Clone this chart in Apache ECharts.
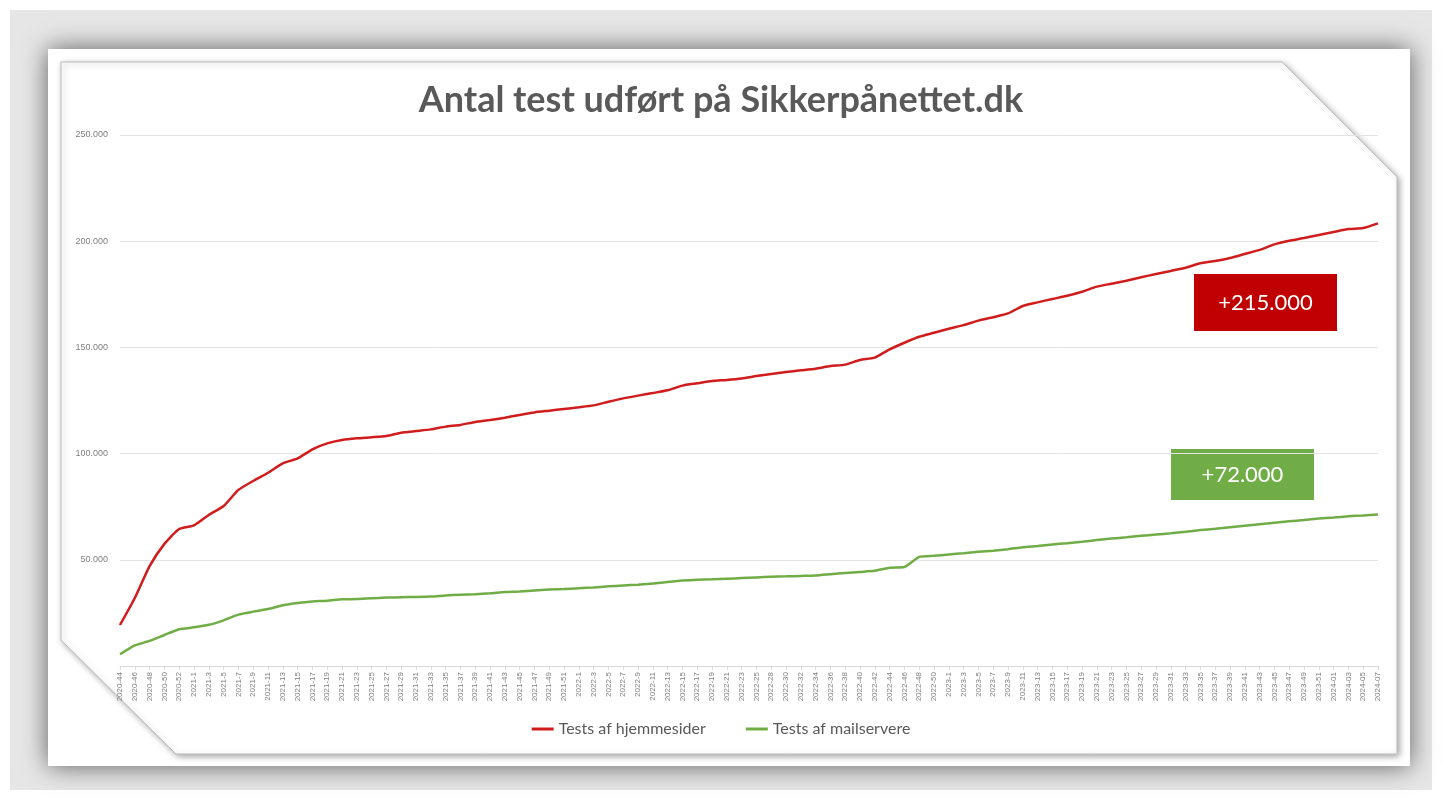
<!DOCTYPE html>
<html style="height: 100%">
<head>
<meta charset="utf-8">
<script src="https://cdn.jsdelivr.net/npm/echarts@6/dist/echarts.min.js"></script>
</head>
<body style="height: 100%; margin: 0; background: #fff">
<div id="container" style="width: 1442px; height: 798px"></div>
<script type="text/javascript">
// week labels (every second week)
var weeks = ['2020-44','2020-46','2020-48','2020-50','2020-52',
  '2021-1','2021-3','2021-5','2021-7','2021-9','2021-11','2021-13','2021-15','2021-17','2021-19',
  '2021-21','2021-23','2021-25','2021-27','2021-29','2021-31','2021-33','2021-35','2021-37','2021-39',
  '2021-41','2021-43','2021-45','2021-47','2021-49','2021-51',
  '2022-1','2022-3','2022-5','2022-7','2022-9','2022-11','2022-13','2022-15','2022-17','2022-19',
  '2022-21','2022-23','2022-25','2022-28','2022-30','2022-32','2022-34','2022-36','2022-38','2022-40',
  '2022-42','2022-44','2022-46','2022-48','2022-50',
  '2023-1','2023-3','2023-5','2023-7','2023-9','2023-11','2023-13','2023-15','2023-17','2023-19',
  '2023-21','2023-23','2023-25','2023-27','2023-29','2023-31','2023-33','2023-35','2023-37','2023-39',
  '2023-41','2023-43','2023-45','2023-47','2023-49','2023-51',
  '2024-01','2024-03','2024-05','2024-07'];

var hjemmesider = [19300, 32000, 47000, 57500, 64500,
  66200, 71100, 75300, 82900, 87100, 91000, 95400, 97700, 102000, 104800,
  106400, 107200, 107700, 108300, 109800, 110600, 111400, 112700, 113500, 114900,
  115800, 116900, 118200, 119400, 120200, 121000,
  121800, 122700, 124400, 126000, 127300, 128500, 129800, 132000, 133100, 134200,
  134700, 135400, 136500, 137500, 138400, 139200, 140000, 141200, 141900, 144100,
  145200, 149100, 152200, 155000, 156900,
  158800, 160500, 162600, 164200, 166000, 169500, 171200, 172800, 174300, 176200,
  178600, 180000, 181400, 183000, 184600, 186000, 187500, 189600, 190700, 192100,
  194000, 195900, 198500, 200200, 201500, 202900,
  204300, 205700, 206200, 208400];

var mailservere = [5500, 9700, 11800, 14600, 17300,
  18200, 19400, 21500, 24200, 25600, 26800, 28600, 29700, 30400, 30700,
  31400, 31500, 31900, 32200, 32400, 32500, 32700, 33200, 33600, 33800,
  34200, 34800, 35100, 35600, 36000, 36200,
  36600, 37000, 37500, 37900, 38300, 38800, 39600, 40200, 40600, 40800,
  41100, 41400, 41700, 42000, 42200, 42400, 42600, 43200, 43800, 44300,
  44800, 46300, 46600, 51400, 51900,
  52500, 53100, 53800, 54300, 55000, 55900, 56500, 57200, 57800, 58500,
  59300, 60000, 60600, 61300, 61900, 62500, 63200, 64000, 64600, 65300,
  66000, 66700, 67400, 68100, 68700, 69400,
  69900, 70500, 70900, 71300];

var seriesNames = ['Tests af hjemmesider', 'Tests af mailservere'];
var seriesColors = ['#d01c1c', '#70ad47'];
var notes = ['+215.000', '+72.000'];

var dom = document.getElementById('container');
var myChart = echarts.init(dom, null, {renderer: 'canvas'});

function dk(v) {
    return String(v).replace(/\B(?=(\d{3})+(?!\d))/g, '.');
}

var option = {
    animation: false,
    backgroundColor: '#ffffff',
    title: {
        text: 'Antal test udført på Sikkerpånettet.dk',
        left: 'center',
        top: 77,
        textStyle: {
            fontFamily: 'Lato',
            fontWeight: 'bold',
            fontSize: 36,
            color: '#595959'
        }
    },
    legend: {
        top: 716,
        left: 'center',
        itemGap: 40,
        itemWidth: 22,
        itemHeight: 3,
        icon: 'rect',
        textStyle: {fontFamily: 'Lato', fontSize: 16, color: '#595959'},
        data: seriesNames
    },
    grid: {left: 120, right: 64, top: 135, bottom: 132},
    xAxis: {
        type: 'category',
        data: weeks,
        boundaryGap: false,
        axisLine: {lineStyle: {color: '#d9d9d9'}},
        axisTick: {show: true, length: 4, interval: 0, lineStyle: {color: '#d9d9d9'}},
        axisLabel: {
            interval: 0,
            rotate: 90,
            fontFamily: 'Liberation Sans',
            fontSize: 8,
            color: '#808080',
            margin: 6
        }
    },
    yAxis: {
        type: 'value',
        min: 0,
        max: 250000,
        interval: 50000,
        axisLine: {show: false},
        axisTick: {show: false},
        splitLine: {lineStyle: {color: '#e3e3e3'}},
        axisLabel: {
            showMinLabel: false,
            fontFamily: 'Liberation Sans',
            fontSize: 9,
            color: '#808080',
            margin: 12,
            formatter: dk
        }
    },
    series: [
        {
            name: seriesNames[0],
            type: 'line',
            data: hjemmesider,
            symbol: 'none',
            smooth: 0.2,
            lineStyle: {width: 2.5, color: seriesColors[0]},
            itemStyle: {color: seriesColors[0]},
            z: 3
        },
        {
            name: seriesNames[1],
            type: 'line',
            data: mailservere,
            symbol: 'none',
            smooth: 0.2,
            lineStyle: {width: 2.5, color: seriesColors[1]},
            itemStyle: {color: seriesColors[1]},
            z: 3
        }
    ],
    graphic: [
        // outer grey backdrop
        {type: 'rect', z: -30, silent: true,
         shape: {x: 10, y: 10, width: 1422, height: 780},
         style: {fill: '#e6e6e6'}},
        // white picture with heavy shadow
        {type: 'rect', z: -20, silent: true,
         shape: {x: 48, y: 49, width: 1362, height: 717},
         style: {fill: '#ffffff', shadowBlur: 24, shadowColor: 'rgba(0,0,0,0.6)'}},
        // chart card with cut corners
        {type: 'polygon', z: -10, silent: true,
         shape: {points: [[61, 62], [1282, 62], [1397, 177], [1397, 754], [176, 754], [61, 640]]},
         style: {fill: '#ffffff', stroke: '#bdbdbd', lineWidth: 1,
                 shadowBlur: 6, shadowOffsetX: 2, shadowOffsetY: 2, shadowColor: 'rgba(0,0,0,0.35)'}},
        // annotation boxes
        {type: 'group', z: 100, children: [
            {type: 'rect', shape: {x: 1194, y: 274, width: 143, height: 57},
             style: {fill: '#c00000'}},
            {type: 'text', x: 1265.5, y: 302.5,
             style: {text: notes[0], fill: '#ffffff', fontFamily: 'Lato', fontSize: 22,
                     align: 'center', verticalAlign: 'middle'}}
        ]},
        {type: 'group', z: 100, children: [
            {type: 'rect', shape: {x: 1171, y: 449, width: 143, height: 51},
             style: {fill: '#70ad47'}},
            {type: 'text', x: 1242.5, y: 474.5,
             style: {text: notes[1], fill: '#ffffff', fontFamily: 'Lato', fontSize: 22,
                     align: 'center', verticalAlign: 'middle'}}
        ]}
    ]
};

myChart.setOption(option);
</script>
</body>
</html>
